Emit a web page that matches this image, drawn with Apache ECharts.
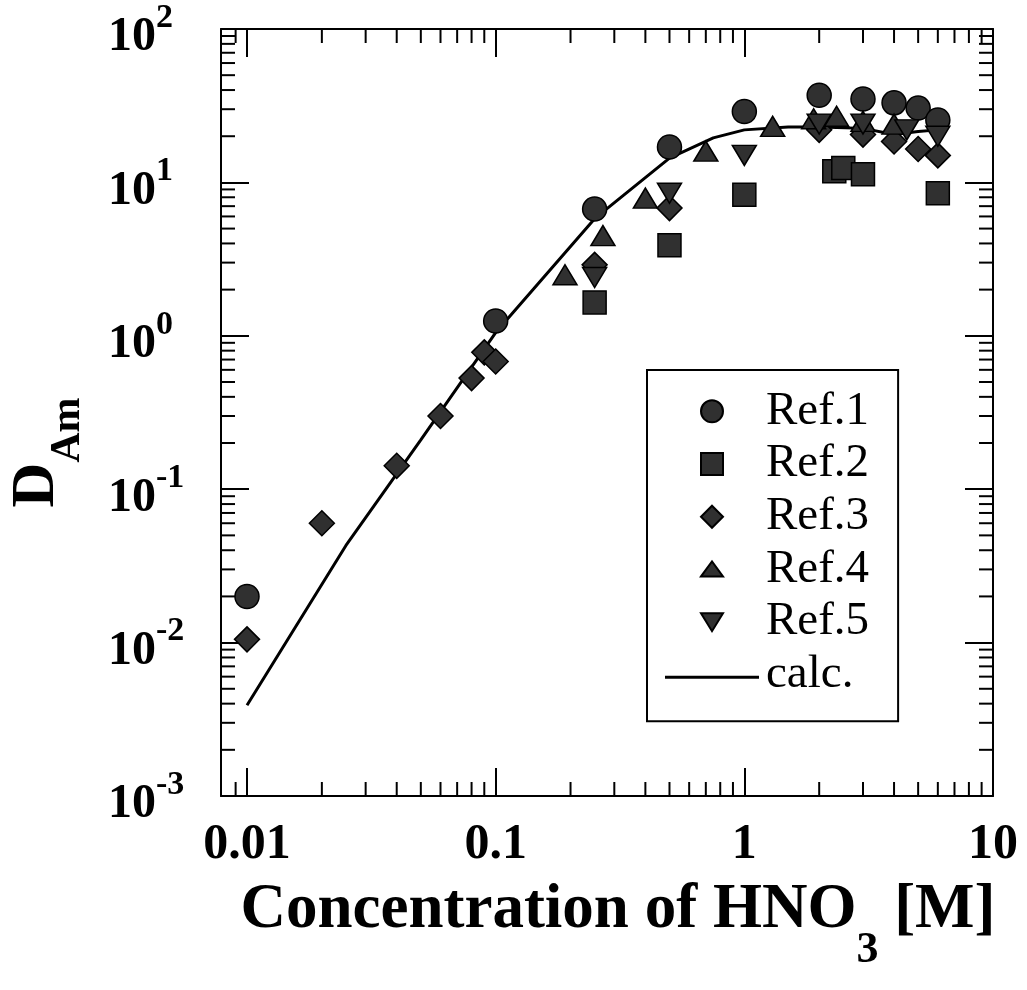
<!DOCTYPE html>
<html>
<head>
<meta charset="utf-8">
<script src="https://cdn.jsdelivr.net/npm/echarts@6/dist/echarts.min.js"></script>
<style>
  html, body { margin: 0; padding: 0; background: #fff; }
  #chart { width: 1027px; height: 990px; }
</style>
</head>
<body>
<div id="chart"></div>
<script>
// Distribution ratio of Am vs. nitric acid concentration
const ref1X = [0.01, 0.1, 0.25, 0.5, 1, 2, 3, 4, 5, 6];
const ref1Y = [0.02, 1.25, 6.7, 17, 29, 37, 35, 33, 30.5, 25.5];

const ref2X = [0.25, 0.5, 1, 2.3, 2.5, 3, 6];
const ref2Y = [1.65, 3.9, 8.3, 11.8, 12.4, 11.3, 8.5];

const ref3X = [0.01, 0.02, 0.04, 0.06, 0.08, 0.09, 0.1, 0.25, 0.5, 2, 3, 4, 5, 6];
const ref3Y = [0.0105, 0.06, 0.142, 0.30, 0.53, 0.78, 0.68, 2.9, 6.8, 22, 20.5, 18.5, 16.5, 15];

const ref4X = [0.19, 0.27, 0.4, 0.7, 1.3, 1.9, 2.35, 3, 4];
const ref4Y = [2.5, 4.5, 7.9, 16, 23.2, 26, 27, 25, 24];

const ref5X = [0.25, 0.5, 1, 2, 3, 4.5, 6];
const ref5Y = [2.4, 8.5, 15, 24, 24, 22, 20];

const calcX = [0.01, 0.025, 0.05, 0.1, 0.25, 0.5, 0.75, 1, 1.5, 2, 3, 4, 5, 6];
const calcY = [0.0039, 0.043, 0.21, 1.05, 5.8, 14.4, 19.5, 22, 23, 23, 22.5, 20.5, 21.5, 22];

const seriesNames = ['Ref.1', 'Ref.2', 'Ref.3', 'Ref.4', 'Ref.5', 'calc.'];

// axis ranges and tick labels
const xMin = 0.00786, xMax = 10;
const yMin = 0.001, yMax = 100;
const xTickLabels = ['0.01', '0.1', '1', '10'];          // 10^-2 .. 10^1
const yTickExponents = ['-3', '-2', '-1', '0', '1', '2']; // 10^-3 .. 10^2

// minor (2..9 x 10^k) tick values
const xMinorTicks = [0.009, 0.02, 0.03, 0.04, 0.05, 0.06, 0.07, 0.08, 0.09,
  0.2, 0.3, 0.4, 0.5, 0.6, 0.7, 0.8, 0.9, 2, 3, 4, 5, 6, 7, 8, 9];
const yMinorTicks = [];
[0.001, 0.01, 0.1, 1, 10].forEach(function (d) {
  [2, 3, 4, 5, 6, 7, 8, 9].forEach(function (m) { yMinorTicks.push(+(m * d).toPrecision(3)); });
});

const zip = (xs, ys) => xs.map((x, i) => [x, ys[i]]);

const SERIF = '"Liberation Serif", "Times New Roman", serif';
const INK = '#000';
const FILL = '#303030';

const markerStyle = { color: FILL, borderColor: INK, borderWidth: 1.5, opacity: 1 };
const downTri = 'path://M0,0L24,0L12,20Z';
// legend glyphs, padded to a square box so they keep their proportions
const legendSquare = 'path://M0,0L22,0L22,22L0,22Z';
const legendDiamond = 'path://M11,0L22,11L11,22L0,11Z';
const legendUpTri = 'path://M0,0M22,22M0,18L11,3L22,18Z';
const legendDownTri = 'path://M0,0M22,22M0,2L22,2L11,20Z';
const legendLine = 'path://M0,0M94,22M0,12L94,12L94,15L0,15Z';

const MINOR_LEN = 14;
function minorX(params, api) {
  const cs = params.coordSys;
  const x = api.coord([api.value(0), 1])[0];
  const st = { stroke: INK, lineWidth: 2 };
  return { type: 'group', children: [
    { type: 'line', shape: { x1: x, y1: cs.y + cs.height, x2: x, y2: cs.y + cs.height - MINOR_LEN }, style: st },
    { type: 'line', shape: { x1: x, y1: cs.y, x2: x, y2: cs.y + MINOR_LEN }, style: st }
  ] };
}
function minorY(params, api) {
  const cs = params.coordSys;
  const y = api.coord([1, api.value(1)])[1];
  const st = { stroke: INK, lineWidth: 2 };
  return { type: 'group', children: [
    { type: 'line', shape: { x1: cs.x, y1: y, x2: cs.x + MINOR_LEN, y2: y }, style: st },
    { type: 'line', shape: { x1: cs.x + cs.width, y1: y, x2: cs.x + cs.width - MINOR_LEN, y2: y }, style: st }
  ] };
}

function isPow10(v) {
  const e = Math.log10(v);
  return Math.abs(e - Math.round(e)) < 1e-6 ? Math.round(e) : null;
}

const axisLineStyle = { show: true, onZero: false, lineStyle: { color: INK, width: 2 } };
const majorTick = { show: true, inside: true, length: 28, lineStyle: { color: INK, width: 2 } };

const chart = echarts.init(document.getElementById('chart'), null, { renderer: 'canvas' });
chart.setOption({
  animation: false,
  backgroundColor: '#fff',
  grid: { left: 221, right: 34, top: 29, bottom: 194, containLabel: false, outerBoundsMode: 'none' },
  xAxis: [
    {
      type: 'log', min: xMin, max: xMax, position: 'bottom',
      axisLine: axisLineStyle, axisTick: majorTick, splitLine: { show: false }, minorTick: { show: false },
      axisLabel: {
        margin: 24, color: INK, fontFamily: SERIF, fontWeight: 'bold', fontSize: 50,
        formatter: function (v) { const e = isPow10(v); return e === null ? '' : xTickLabels[e + 2]; }
      },
      name: '{n|Concentration of HNO}{sub|3}{n| [M]}',
      nameLocation: 'middle', nameGap: 53,
      nameTextStyle: {
        padding: [0, 0, 0, 22],
        rich: {
          n: { fontFamily: SERIF, fontWeight: 'bold', fontSize: 63, color: INK },
          sub: { fontFamily: SERIF, fontWeight: 'bold', fontSize: 44, color: INK, padding: [80, 0, 0, 0] }
        }
      }
    },
    {
      type: 'log', min: xMin, max: xMax, position: 'top',
      axisLine: axisLineStyle, axisTick: majorTick, splitLine: { show: false },
      axisLabel: { show: false }
    }
  ],
  yAxis: [
    {
      type: 'log', min: yMin, max: yMax, position: 'left',
      axisLine: axisLineStyle, axisTick: majorTick, splitLine: { show: false }, minorTick: { show: false },
      axisLabel: {
        margin: 113, align: 'left',
        formatter: function (v) {
          const e = isPow10(v);
          return e === null ? '' : '{b|10}{s|' + yTickExponents[e + 3] + '}';
        },
        rich: {
          b: { fontFamily: SERIF, fontWeight: 'bold', fontSize: 48, color: INK, padding: [18, 0, 0, 0] },
          s: { fontFamily: SERIF, fontWeight: 'bold', fontSize: 34, color: INK, padding: [0, 0, 22, 0] }
        }
      },
      name: '{d|D}{sub|Am}',
      nameLocation: 'middle', nameGap: 132, nameRotate: 90,
      nameTextStyle: {
        padding: [0, 80, 0, 0],
        rich: {
          d: { fontFamily: SERIF, fontWeight: 'bold', fontSize: 62, color: INK },
          sub: { fontFamily: SERIF, fontWeight: 'bold', fontSize: 42, color: INK, padding: [62, 0, 0, 0] }
        }
      }
    },
    {
      type: 'log', min: yMin, max: yMax, position: 'right',
      axisLine: axisLineStyle, axisTick: majorTick, splitLine: { show: false },
      axisLabel: { show: false }
    }
  ],
  legend: {
    orient: 'vertical', left: 647, top: 370,
    padding: [15, 29, 20, 18],
    itemGap: 0, itemWidth: 94, itemHeight: 22,
    borderColor: INK, borderWidth: 2, backgroundColor: '#fff',
    textStyle: { fontFamily: SERIF, fontSize: 47, color: INK, lineHeight: 52.7, padding: [0, 0, 0, 2] },
    data: [
      { name: 'Ref.1' },
      { name: 'Ref.2', icon: legendSquare },
      { name: 'Ref.3', icon: legendDiamond },
      { name: 'Ref.4', icon: legendUpTri },
      { name: 'Ref.5', icon: legendDownTri },
      { name: 'calc.', icon: legendLine, itemStyle: { color: INK, borderWidth: 0 } }
    ]
  },
  series: [
    { type: 'custom', name: 'xMinor', xAxisIndex: 0, yAxisIndex: 0, silent: true, clip: false, z: 3,
      renderItem: minorX, data: xMinorTicks.map(v => [v, 1]) },
    { type: 'custom', name: 'yMinor', xAxisIndex: 0, yAxisIndex: 0, silent: true, clip: false, z: 3,
      renderItem: minorY, data: yMinorTicks.map(v => [1, v]) },
    { type: 'line', name: seriesNames[5], data: zip(calcX, calcY), symbol: 'none', z: 4,
      lineStyle: { color: INK, width: 3 }, itemStyle: { color: INK } },
    { type: 'scatter', name: seriesNames[0], data: zip(ref1X, ref1Y), symbol: 'circle', symbolSize: 24, itemStyle: markerStyle, z: 5 },
    { type: 'scatter', name: seriesNames[1], data: zip(ref2X, ref2Y), symbol: 'rect', symbolSize: 23, itemStyle: markerStyle, z: 5 },
    { type: 'scatter', name: seriesNames[2], data: zip(ref3X, ref3Y), symbol: 'diamond', symbolSize: 25, itemStyle: markerStyle, z: 5 },
    { type: 'scatter', name: seriesNames[3], data: zip(ref4X, ref4Y), symbol: 'triangle', symbolSize: [24, 20], itemStyle: markerStyle, z: 5 },
    { type: 'scatter', name: seriesNames[4], data: zip(ref5X, ref5Y), symbol: downTri, symbolSize: [24, 20], itemStyle: markerStyle, z: 5 }
  ]
});
</script>
</body>
</html>
